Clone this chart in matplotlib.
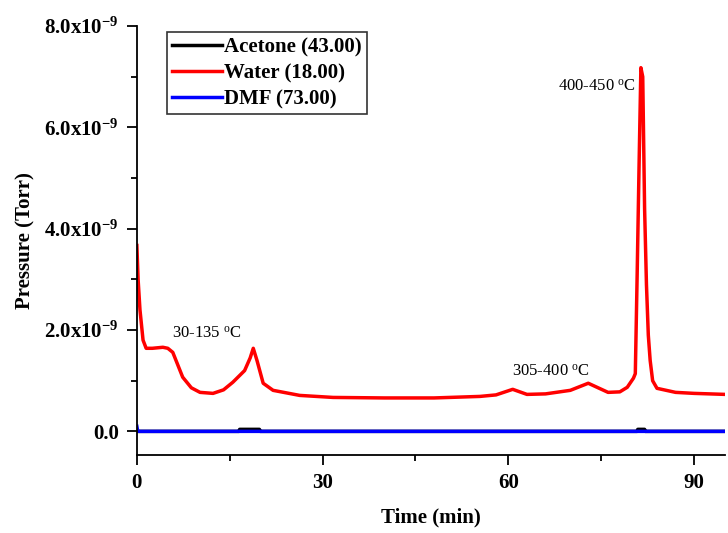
import matplotlib
matplotlib.use('Agg')
import matplotlib.pyplot as plt
import numpy as np
from matplotlib.ticker import MultipleLocator

plt.rcParams['font.family'] = ['Liberation Serif', 'DejaVu Serif']
plt.rcParams['mathtext.fontset'] = 'custom'
plt.rcParams['mathtext.rm'] = 'Liberation Serif:bold'
plt.rcParams['mathtext.it'] = 'Liberation Serif:bold'
plt.rcParams['mathtext.bf'] = 'Liberation Serif:bold'

# water trace (time in min, pressure in 1e-9 Torr)
water_t = [0.0, 0.2, 0.5, 1.0, 1.5, 2.5, 4.2, 5.0, 5.8, 7.4, 8.8, 10.2, 12.3, 14.0, 15.5,
           17.4, 18.3, 18.8, 19.4, 20.4, 22.0, 26.3, 31.7, 40.0, 48.0, 55.4, 58.0,
           60.7, 63.0, 66.0, 70.0, 72.9, 74.5, 76.1, 78.0, 79.2, 80.2, 80.5, 80.8,
           81.1, 81.4, 81.7, 82.0, 82.3, 82.6, 82.9, 83.3, 84.0, 85.5, 87.0, 90.0, 95.0]
water_p = [3.67, 3.0, 2.4, 1.8, 1.64, 1.64, 1.66, 1.64, 1.56, 1.07, 0.86, 0.77, 0.75, 0.82, 0.97,
           1.2, 1.45, 1.64, 1.4, 0.95, 0.81, 0.71, 0.67, 0.66, 0.66, 0.69, 0.72,
           0.83, 0.73, 0.74, 0.81, 0.95, 0.86, 0.77, 0.78, 0.87, 1.05, 1.14, 3.1,
           5.2, 7.18, 7.0, 4.4, 2.9, 1.9, 1.4, 1.0, 0.85, 0.81, 0.77, 0.75, 0.73]

acetone_t = [0.0, 16.5, 16.6, 19.8, 19.9, 80.8, 80.9, 82.0, 82.1, 95.0]
acetone_p = [0.0, 0.0, 0.04, 0.04, 0.0, 0.0, 0.04, 0.04, 0.0, 0.0]

dmf_t = [0.0, 0.1, 0.3, 95.0]
dmf_p = [0.1, 0.03, 0.0, 0.0]

fig = plt.figure(figsize=(7.28, 5.33), dpi=100)
ax = fig.add_axes([0.188, 0.146, 0.808, 0.805])

ax.plot(acetone_t, np.array(acetone_p) * 1e-9, color='black', lw=2.5, label='Acetone (43.00)')
ax.plot(water_t, np.array(water_p) * 1e-9, color='red', lw=2.5, label='Water (18.00)')
ax.plot(dmf_t, np.array(dmf_p) * 1e-9, color='blue', lw=2.5, label='DMF (73.00)')

ax.set_xlim(0, 95)
ax.set_ylim(-0.47e-9, 8.0e-9)

ax.spines['top'].set_visible(False)
ax.spines['right'].set_visible(False)
ax.spines['left'].set_bounds(-0.47e-9, 8.0e-9)

ax.xaxis.set_major_locator(MultipleLocator(30))
ax.xaxis.set_minor_locator(MultipleLocator(15))
yt = [0, 2e-9, 4e-9, 6e-9, 8e-9]
ax.set_yticks(yt)
ax.set_yticklabels(['0.0', '2.0x10$^{-9}$', '4.0x10$^{-9}$', '6.0x10$^{-9}$', '8.0x10$^{-9}$'])
ax.yaxis.set_minor_locator(MultipleLocator(1e-9))
ax.tick_params(which='major', direction='out', length=7, width=1.3, labelsize=15, pad=6)
ax.tick_params(which='minor', direction='out', length=4, width=1.3)
for lab in ax.get_xticklabels() + ax.get_yticklabels():
    lab.set_fontweight('bold')
for s in ['left', 'bottom']:
    ax.spines[s].set_linewidth(1.3)

ax.set_xlabel('Time (min)', fontsize=15, fontweight='bold', labelpad=10)
ax.set_ylabel('Pressure (Torr)', fontsize=15, fontweight='bold', labelpad=6)

ax.text(5.7, 1.85e-9, '30-135 $^{\\mathregular{o}}$C', fontsize=12)
ax.text(60.6, 1.1e-9, '305-400 $^{\\mathregular{o}}$C', fontsize=12)
ax.text(68.0, 6.73e-9, '400-450 $^{\\mathregular{o}}$C', fontsize=12)

leg = ax.legend(loc='upper left', bbox_to_anchor=(0.033, 1.01), prop={'weight': 'bold', 'size': 15},
                frameon=True, fancybox=False, edgecolor='black', handlelength=2.4,
                handletextpad=0.1, labelspacing=0.28, borderpad=0.25)
leg.get_frame().set_linewidth(1.2)

fig.savefig('out.png', dpi=100)
